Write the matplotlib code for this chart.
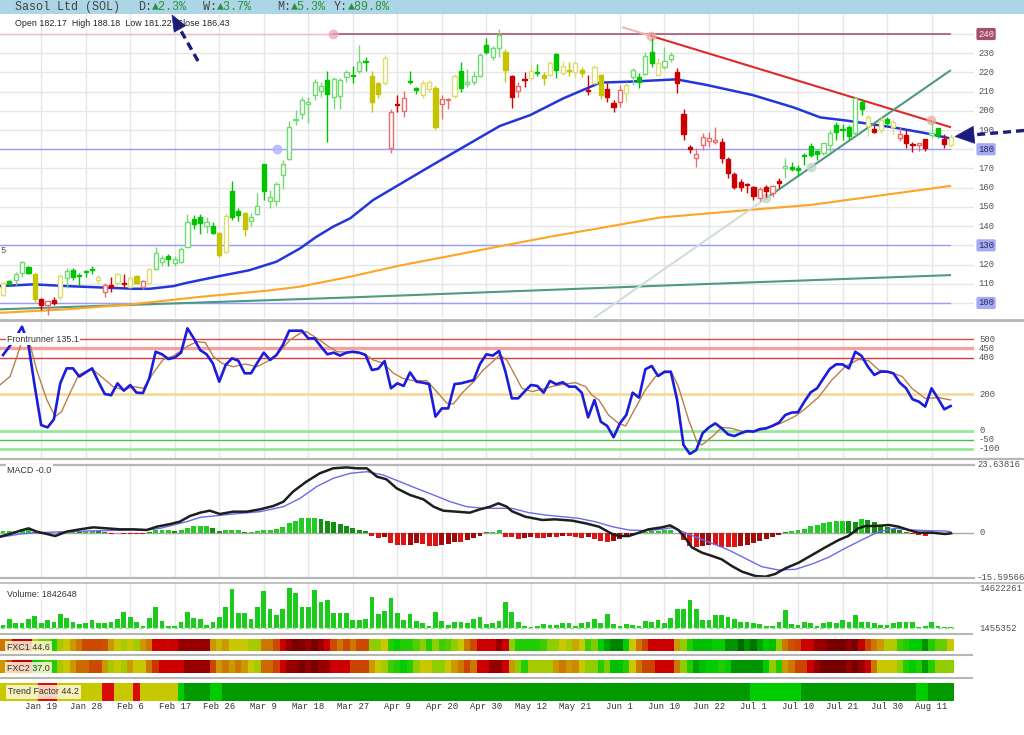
import numpy as np
import matplotlib
matplotlib.use("Agg")
import matplotlib.pyplot as plt
from matplotlib.colors import LinearSegmentedColormap, Normalize
from matplotlib.patches import Rectangle, Polygon

# ---------------- data ----------------
opens = [104.2, 111.3, 111.8, 115.7, 118.6, 115.0, 101.9, 98.9, 101.5, 103.3,
         113.2, 117.1, 114.1, 116.2, 117.2, 112.0, 105.9, 109.3, 110.2, 110.4,
         108.5, 114.0, 108.1, 110.2, 117.5, 121.2, 124.2, 121.0, 121.5, 129.3,
         143.5, 144.9, 140.1, 140.2, 136.6, 126.7, 158.4, 148.0, 147.0, 142.8,
         146.3, 172.3, 153.1, 153.1, 166.6, 174.9, 195.0, 198.4, 203.8, 208.2,
         210.5, 216.0, 207.4, 207.7, 217.5, 218.3, 220.9, 225.8, 218.1, 214.3,
         214.3, 180.5, 203.2, 200.1, 215.3, 211.7, 208.2, 211.2, 212.0, 203.6,
         205.6, 207.7, 220.9, 213.8, 215.2, 218.1, 234.3, 228.2, 232.6, 230.8,
         218.1, 210.5, 216.6, 216.9, 220.2, 218.7, 218.7, 229.4, 219.5, 221.5,
         220.1, 221.3, 210.7, 214.3, 218.7, 211.2, 203.9, 204.8, 209.1, 217.8,
         217.5, 219.2, 230.8, 218.7, 222.7, 226.8, 220.4, 198.4, 180.7, 175.3,
         182.2, 184.5, 184.0, 184.0, 174.8, 167.1, 163.1, 161.6, 160.5, 154.5,
         160.2, 157.4, 163.5, 170.5, 171.0, 170.5, 176.6, 181.7, 179.1, 178.2,
         182.2, 192.6, 190.2, 191.7, 188.3, 204.8, 192.1, 190.4, 190.0, 195.6,
         191.4, 185.7, 187.4, 182.3, 182.2, 185.2, 187.4, 190.9, 185.3, 182.17]
highs = [111.0, 112.0, 116.3, 121.8, 119.3, 115.5, 102.4, 101.5, 103.2, 115.0,
         118.0, 118.0, 115.5, 117.2, 119.5, 114.8, 110.5, 113.5, 115.8, 115.2,
         114.0, 114.5, 112.0, 118.0, 129.0, 125.0, 125.6, 124.2, 129.3, 146.5,
         145.7, 146.5, 144.5, 142.3, 137.2, 147.0, 163.6, 149.2, 147.5, 147.0,
         157.0, 172.6, 158.8, 163.1, 174.5, 194.8, 200.7, 207.4, 207.4, 216.4,
         215.2, 221.0, 217.5, 217.0, 221.5, 223.5, 234.5, 228.0, 221.0, 215.2,
         229.0, 201.0, 208.4, 210.3, 220.5, 212.5, 216.0, 216.0, 213.0, 208.3,
         206.7, 219.0, 225.4, 222.0, 221.0, 230.0, 237.8, 234.0, 242.4, 232.0,
         218.5, 215.2, 220.4, 223.8, 224.5, 220.4, 225.8, 230.0, 226.2, 225.6,
         226.2, 223.0, 218.7, 224.0, 219.0, 214.3, 205.6, 213.5, 215.2, 222.1,
         219.5, 230.8, 237.8, 227.3, 233.4, 230.8, 222.1, 200.8, 182.2, 180.5,
         188.3, 189.1, 191.7, 185.7, 176.2, 168.4, 164.3, 162.3, 161.0, 160.5,
         161.4, 161.5, 165.2, 175.3, 173.6, 171.6, 177.9, 183.4, 179.6, 183.5,
         190.0, 194.3, 192.9, 192.6, 207.4, 206.0, 197.9, 192.6, 196.9, 196.7,
         195.6, 191.7, 190.0, 184.0, 183.5, 185.5, 195.2, 191.2, 188.2, 188.18]
lows = [103.5, 109.3, 109.3, 113.5, 115.0, 100.7, 96.3, 93.7, 98.9, 101.5,
        107.6, 111.9, 109.5, 113.7, 115.0, 110.0, 103.0, 105.7, 108.8, 107.9,
        108.0, 110.0, 107.5, 109.5, 117.2, 119.0, 119.0, 119.0, 120.6, 129.0,
        138.7, 136.0, 136.3, 136.0, 124.0, 126.2, 143.0, 142.8, 135.0, 140.2,
        145.8, 153.6, 149.6, 150.5, 159.1, 174.3, 192.6, 196.0, 193.7, 205.6,
        207.4, 184.0, 200.8, 201.0, 215.0, 214.5, 219.7, 221.0, 199.6, 206.7,
        213.5, 177.9, 199.6, 197.0, 214.0, 209.0, 206.7, 210.0, 190.5, 196.0,
        200.8, 206.5, 209.9, 212.5, 213.5, 217.5, 229.5, 226.5, 228.2, 215.2,
        201.3, 207.0, 212.6, 216.0, 218.1, 213.5, 218.0, 216.9, 218.7, 217.9,
        217.1, 217.5, 208.2, 214.0, 206.0, 204.8, 199.6, 202.2, 204.8, 213.5,
        211.7, 218.7, 223.0, 218.1, 221.7, 225.6, 209.1, 184.8, 177.9, 170.9,
        179.5, 181.2, 183.0, 173.0, 164.9, 159.1, 158.1, 157.1, 153.8, 153.2,
        155.0, 155.0, 159.6, 164.9, 168.8, 166.2, 171.6, 176.2, 174.5, 177.0,
        178.8, 184.7, 184.7, 184.9, 187.4, 198.0, 186.9, 188.3, 188.3, 191.9,
        187.9, 184.3, 180.5, 178.8, 179.0, 179.3, 186.0, 185.7, 180.5, 181.22]
closes = [110.5, 109.9, 115.0, 121.3, 115.5, 101.9, 98.9, 101.0, 99.8, 114.0,
          116.6, 113.7, 113.9, 116.0, 117.0, 113.7, 109.3, 108.1, 114.9, 110.0,
          112.8, 110.2, 111.4, 117.5, 125.8, 123.6, 122.8, 122.7, 128.1, 142.1,
          140.9, 141.5, 142.0, 136.6, 125.0, 145.3, 144.6, 145.8, 138.3, 144.6,
          150.6, 158.4, 155.0, 161.9, 172.2, 191.7, 195.4, 205.6, 204.0, 215.2,
          212.9, 208.8, 216.6, 216.0, 220.4, 218.0, 225.6, 225.5, 204.8, 208.6,
          227.4, 199.2, 202.9, 206.5, 215.1, 210.6, 214.7, 215.2, 191.7, 206.0,
          206.2, 218.1, 211.7, 215.0, 218.1, 229.1, 230.8, 232.5, 239.5, 221.3,
          207.4, 212.9, 216.2, 220.9, 219.9, 216.9, 225.1, 221.3, 223.3, 220.8,
          224.7, 219.9, 210.4, 223.0, 208.2, 207.4, 201.8, 210.8, 213.5, 221.3,
          215.2, 228.5, 224.7, 225.1, 226.1, 229.1, 214.3, 187.9, 180.4, 177.5,
          186.2, 186.0, 185.0, 175.3, 167.5, 160.2, 160.5, 161.2, 155.8, 159.2,
          158.4, 160.9, 162.3, 170.7, 169.7, 169.4, 176.4, 177.0, 177.4, 183.4,
          188.3, 189.1, 189.9, 186.9, 206.5, 200.8, 197.0, 189.2, 195.2, 193.8,
          194.3, 188.0, 183.1, 182.1, 183.4, 180.5, 188.6, 187.4, 182.7, 186.43]
candle_cols = ("yggggyrrry" "gggggyrryr" "yyrygggggg" "ggggyyggyg" "gggggggggg"
               "ggggggggyy" "yrrrggyyyr" "rygggggggy" "rrrygyygyy" "yyryyrrryg"
               "gggyggrrrr" "rrrrrrrrrr" "rrrggggggg" "ggggggyryg" "yrrrrrggry")

# moving averages (bar index, price)
ma_fast = [(-0.5, 108.8), (4.8, 109.7), (10, 108.8), (15.3, 108.1), (20.5, 107.4), (23.1, 107.4),
           (26.8, 108.8), (28.9, 110.5), (33.6, 113.7), (38.8, 117.1), (43, 121.5), (46.7, 128.4),
           (49.3, 134.5), (51.9, 139.7), (54.6, 144.1), (58.2, 153.6), (67.1, 171), (73.4, 183.1),
           (78.1, 192.1), (82.9, 197.8), (88.1, 206.5), (93.9, 214.7), (98.6, 215.2), (105.9, 216.4),
           (110.6, 213.5), (117.9, 208.2), (124.3, 201.8), (128.5, 196.6), (132.7, 194.9),
           (140, 191.4), (145.2, 188.3), (148.9, 185.7)]
ma_slow = [(-0.5, 94.9), (10, 96.7), (20.5, 99.4), (31, 103.2), (41.5, 106.4), (46.7, 108.5),
           (54.6, 113.7), (62.4, 119.5), (70.3, 124.5), (78.1, 129.5), (86, 134.5), (93.9, 139),
           (103.3, 144.5), (119, 148.9), (126.9, 151), (134.7, 154.5), (148.9, 160.9)]
ma_long = [(-0.5, 96.7), (54.6, 102.9), (103.3, 109), (148.9, 114.5)]

# drawn trend lines (bar index, price)
resist_faint = [(97.5, 243.4), (101.9, 239.0)]
resist_line = [(101.9, 239.0), (148.9, 191.6)]
support_faint = [(93.0, 92.4), (120.0, 154.5)]
support_line = [(120.0, 154.5), (148.9, 220.9)]
level_240 = [(-0.5, 51.9), (51.9, 148.9)]
blue_levels = [180, 130, 100]
price_ticks = list(range(100, 250, 10))

# Frontrunner
fr_main = [414, 460, 511, 569, 469, 241, 31, 18, 62, 259,
           341, 341, 296, 319, 341, 268, 201, 194, 259, 219,
           250, 208, 206, 286, 432, 418, 392, 400, 427, 560,
           505, 441, 418, 368, 268, 359, 396, 383, 314, 314,
           372, 427, 387, 414, 469, 547, 547, 547, 505, 505,
           460, 418, 427, 411, 427, 432, 427, 414, 332, 339,
           381, 232, 259, 245, 319, 268, 263, 255, 77, 122,
           122, 255, 259, 268, 277, 365, 418, 411, 436, 323,
           177, 177, 214, 250, 245, 208, 272, 254, 265, 241,
           241, 208, 73, 168, 49, 26, -36, 40, 86, 208,
           181, 336, 354, 299, 321, 323, 168, -78, -127, -106,
           -14, 18, 40, 13, -20, -29, -14, -2, -5, 9,
           13, 27, 44, 86, 99, 101, 159, 210, 232, 286,
           338, 363, 363, 341, 432, 409, 350, 305, 323, 323,
           314, 263, 232, 172, 159, 132, 232, 177, 117, 135.1]
fr_signal = [(-0.5, 250), (1.1, 296), (2.1, 396), (3.2, 514), (4.2, 478), (5.3, 332), (6.9, 168),
             (8.2, 77), (9.2, 104), (10.5, 204), (11.9, 305), (13.2, 328), (14.2, 332), (15.8, 286),
             (17.3, 241), (18.9, 223), (20.5, 241), (22.1, 232), (23.6, 314), (25.2, 390),
             (26.8, 409), (28.9, 460), (30.5, 487), (31.8, 482), (33.1, 405), (34.4, 369),
             (36.2, 350), (38.1, 365), (39.9, 350), (41.5, 378), (43.0, 414), (45.1, 496),
             (46.7, 533), (47.7, 542), (49.8, 496), (51.2, 460), (52.5, 432), (54.6, 429),
             (56.7, 423), (58.2, 387), (59.8, 369), (61.4, 314), (62.9, 286), (64.5, 274),
             (66.6, 274), (68.2, 214), (69.8, 150), (70.8, 146), (72.4, 214), (74.0, 268),
             (75.5, 332), (77.1, 381), (78.1, 414), (79.2, 387), (80.0, 336), (81.6, 232),
             (83.2, 214), (85.3, 232), (86.8, 246), (88.4, 255), (90.0, 263), (91.6, 241),
             (92.6, 195), (93.7, 168), (95.2, 86), (96.8, 40), (97.9, 26), (99.4, 122),
             (101.0, 223), (102.6, 296), (104.1, 328), (105.2, 314), (106.2, 241), (107.8, 59),
             (109.1, -60), (109.9, -78), (111.5, -33), (113.0, 18), (114.6, 13), (116.7, -9),
             (118.8, 0), (120.9, 22), (122.5, 44), (124.6, 80), (126.2, 122), (128.3, 186),
             (130.3, 277), (132.4, 350), (134.5, 390), (136.1, 383), (137.7, 332), (139.3, 323),
             (141.4, 296), (142.9, 232), (145.0, 177), (147.1, 181), (149.0, 168)]
fr_levels = [500, 450, 400, 200, 0, -50, -100]

# MACD
macd_line = [(-0.5, -1.35), (1.1, -0.42), (2.7, 0.73), (4.0, 1.54), (5.3, 0.39), (6.9, -0.42),
             (8.2, -1.12), (10.0, 0.39), (12.1, 1.2), (14.2, 1.89), (16.3, 1.54), (18.4, 1.2),
             (20.5, 1.2), (22.6, 0.97), (24.2, 2.12), (26.3, 3.05), (27.8, 3.86), (29.4, 5.83),
             (31.0, 6.98), (32.5, 7.68), (34.1, 6.52), (36.2, 7.33), (38.3, 7.33), (40.4, 8.14),
             (42.5, 9.3), (44.1, 10.8), (45.6, 14.28), (47.7, 17.75), (49.8, 20.64), (51.9, 22.38),
             (54.0, 22.72), (55.6, 22.38), (57.2, 22.38), (58.8, 19.48), (60.3, 18.56), (61.9, 15.43),
             (64.0, 13.12), (66.1, 11.61), (67.7, 9.07), (69.2, 7.68), (71.3, 7.33), (73.4, 6.98),
             (75.0, 8.14), (76.6, 9.07), (77.9, 10.22), (79.2, 9.07), (80.0, 7.5), (82.1, 5.59),
             (84.8, 4.44), (86.8, 4.67), (89.5, 4.21), (91.6, 3.28), (93.7, 2.12), (95.8, -0.42),
             (96.8, -1.12), (98.4, -1.12), (100.0, 0.04), (101.5, 1.2), (103.6, 1.89), (104.9, 2.58),
             (106.2, 0.97), (107.3, -1.93), (108.3, -5.05), (109.9, -6.9), (111.5, -8.06),
             (113.0, -9.22), (114.6, -11.54), (116.2, -13.5), (118.3, -15.01), (119.9, -15.24),
             (121.4, -14.31), (123.0, -12.35), (125.1, -10.38), (127.2, -7.72), (129.3, -5.05),
             (131.4, -2.51), (132.9, -1.12), (134.5, 1.54), (135.6, 2.35), (137.1, 2.35),
             (139.3, 2.7), (140.8, 2.12), (142.4, 0.97), (143.9, 0.04), (146.1, 0.04),
             (148.1, -0.42), (149.0, -0.19)]
macd_signal = [(-0.5, -1.58), (2.7, -0.42), (5.3, 0.04), (10.0, 0.39), (15.3, 0.73), (20.5, 0.97),
               (22.6, 0.97), (24.7, 1.54), (26.8, 2.7), (28.9, 3.86), (31.0, 5.36), (33.1, 5.83),
               (36.2, 6.52), (40.4, 7.33), (44.1, 9.07), (46.7, 11.96), (49.3, 16.01), (51.9, 18.9),
               (54.6, 20.64), (57.2, 21.22), (59.8, 20.06), (62.4, 17.75), (65.0, 15.43),
               (67.7, 13.12), (70.3, 10.8), (72.9, 9.07), (75.5, 8.49), (78.1, 8.49), (80.0, 8.49),
               (82.7, 6.98), (85.3, 6.17), (87.9, 5.59), (90.5, 5.02), (93.1, 3.86), (95.8, 2.12),
               (98.4, 0.97), (101.0, 0.73), (103.6, 1.2), (105.2, 1.77), (106.2, 0.97),
               (108.8, -1.35), (111.5, -3.67), (114.1, -5.98), (116.7, -8.87), (119.3, -11.77),
               (121.9, -12.92), (124.6, -12.69), (127.2, -10.84), (129.8, -8.53), (132.4, -5.4),
               (135.0, -2.51), (137.7, 0.39), (140.3, 1.54), (142.9, 0.97), (145.5, 0.73),
               (148.1, 0.62), (149.0, 0.39)]
macd_hist = [0.58, 0.58, 0.70, 1.27, 1.50, 0.35, -0.46, -0.46, -0.23, 0.10,
             0.46, 0.58, 0.46, 0.46, 0.58, 0.46, 0.23, -0.35, -0.23, -0.35,
             -0.35, -0.35, -0.46, 0.23, 0.81, 0.81, 0.81, 0.70, 0.81, 1.74,
             2.31, 2.31, 2.31, 1.50, 0.58, 0.93, 0.93, 0.93, 0.35, 0.35,
             0.58, 0.93, 0.93, 1.27, 1.85, 3.24, 4.17, 4.98, 5.09, 5.21,
             4.63, 4.05, 3.82, 2.89, 2.31, 1.50, 0.93, 0.58, -1.16, -1.97,
             -1.39, -3.47, -4.28, -4.40, -4.28, -3.70, -3.94, -4.63, -4.63, -4.28,
             -3.94, -3.13, -3.13, -2.55, -1.97, -1.16, 0.12, 0.23, 0.93, -1.39,
             -1.62, -2.08, -1.97, -1.62, -1.97, -1.97, -1.39, -1.39, -1.16, -1.16,
             -1.39, -1.97, -1.62, -2.31, -2.78, -3.13, -2.78, -2.31, -1.62, -0.93,
             -0.23, 0.35, 0.58, 0.70, 0.81, 0.93, -0.23, -2.55, -4.63, -5.09,
             -4.63, -4.28, -4.28, -4.86, -5.09, -5.09, -4.63, -4.28, -3.70, -3.01,
             -2.31, -1.62, -0.93, 0.10, 0.70, 0.93, 1.39, 2.43, 2.78, 3.24,
             3.59, 4.05, 4.17, 4.05, 3.59, 4.63, 4.28, 3.70, 2.66, 2.08,
             1.27, 0.93, 0.10, -0.46, -0.69, -1.16, -0.58, -0.46, -0.81, -0.46]
macd_lo, macd_hi = -15.59566, 23.63816

# volume, millions
volume = [2.55, 4.42, 3.10, 3.10, 4.42, 5.62, 3.32, 4.20, 3.43, 6.17,
          4.97, 3.65, 2.77, 3.32, 4.20, 3.10, 3.10, 3.65, 4.42, 6.94,
          5.08, 3.43, 2.33, 4.97, 8.59, 3.98, 2.33, 2.33, 3.43, 6.94,
          4.75, 4.53, 2.55, 3.65, 5.30, 8.59, 14.29, 6.61, 6.61, 4.42,
          8.37, 13.74, 7.82, 5.84, 7.82, 14.62, 12.97, 8.37, 8.37, 14.07,
          10.01, 10.78, 6.39, 6.61, 6.61, 4.20, 4.20, 4.42, 11.88, 6.17,
          7.16, 11.55, 6.61, 4.20, 6.17, 3.98, 3.32, 2.33, 6.94, 3.87,
          2.55, 3.65, 3.65, 3.10, 4.42, 5.30, 2.77, 3.32, 3.87, 10.01,
          6.94, 3.43, 2.33, 2.00, 2.33, 2.77, 2.55, 2.55, 3.10, 3.10,
          2.22, 3.32, 3.43, 4.42, 3.10, 6.17, 2.88, 2.22, 2.88, 2.55,
          2.33, 3.98, 3.65, 4.20, 3.10, 4.86, 7.71, 7.71, 10.78, 7.71,
          4.20, 4.20, 5.84, 5.84, 5.30, 4.53, 3.65, 3.43, 3.10, 2.88,
          2.33, 2.33, 3.65, 7.60, 2.77, 2.55, 3.65, 3.10, 2.33, 3.10,
          3.43, 3.10, 4.20, 3.65, 5.84, 3.65, 3.65, 3.10, 2.55, 2.55,
          3.10, 3.65, 3.65, 3.65, 1.78, 2.33, 3.65, 2.33, 2.00, 1.842648]
vol_lo, vol_hi = 1.455352, 14.622261

# heat strips (0 = strong green ... 100 = dark red)
fxc1 = [58, 58, 76, 76, 76, 45, 33, 33, 25, 40, 45, 52, 58, 65, 65, 65, 64, 52, 46, 40,
        45, 40, 52, 58, 76, 76, 75, 76, 86, 86, 86, 86, 86, 52, 48, 52, 45, 45, 45, 40,
        40, 58, 58, 65, 76, 86, 95, 92, 86, 95, 86, 76, 65, 58, 65, 58, 65, 65, 37, 37,
        45, 25, 22, 25, 25, 30, 37, 25, 37, 28, 30, 37, 45, 58, 65, 76, 76, 76, 86, 76,
        37, 25, 25, 25, 25, 28, 37, 37, 45, 40, 50, 45, 28, 35, 22, 16, 10, 10, 22, 45,
        58, 66, 76, 76, 76, 76, 52, 37, 25, 20, 20, 20, 23, 23, 13, 13, 4, 13, 7, 16,
        22, 20, 37, 58, 64, 66, 76, 76, 86, 86, 95, 95, 95, 88, 95, 78, 66, 58, 52, 42,
        42, 28, 25, 22, 22, 13, 25, 32, 32, 44.6]
fxc2 = [52, 65, 76, 76, 76, 22, 25, 30, 25, 40, 45, 52, 60, 60, 65, 65, 52, 40, 45, 40,
        52, 45, 45, 58, 68, 76, 76, 76, 76, 86, 86, 86, 86, 66, 52, 58, 52, 58, 52, 45,
        40, 60, 60, 66, 76, 86, 86, 95, 86, 95, 86, 86, 76, 76, 76, 66, 66, 66, 52, 45,
        40, 28, 25, 22, 25, 37, 45, 45, 37, 37, 45, 52, 58, 66, 58, 76, 76, 86, 86, 76,
        52, 37, 25, 40, 40, 40, 40, 52, 58, 52, 55, 45, 37, 37, 25, 35, 20, 20, 25, 45,
        58, 66, 66, 76, 76, 76, 58, 37, 25, 16, 20, 22, 22, 25, 23, 13, 13, 13, 13, 13,
        22, 37, 25, 52, 58, 66, 66, 76, 86, 95, 95, 95, 95, 86, 95, 86, 76, 58, 45, 45,
        45, 37, 25, 22, 25, 15, 25, 37, 37, 37.0]
tf_counts = [6, 3, 7, 2, 3, 1, 6, 1, 4, 2, 83, 8, 18, 2, 4]
tf_codes = "YRYRYRYGgGgGgGg"

date_labels = ["Jan 19", "Jan 28", "Feb 6", "Feb 17", "Feb 26", "Mar 9", "Mar 18", "Mar 27",
               "Apr 9", "Apr 20", "Apr 30", "May 12", "May 21", "Jun 1", "Jun 10", "Jun 22",
               "Jul 1", "Jul 10", "Jul 21", "Jul 30", "Aug 11"]
date_idx = [6 + 7 * k for k in range(len(date_labels))]

# ---------------- figure ----------------
W, H = 1024, 735
MONO = ['Liberation Mono', 'DejaVu Sans Mono']
SANS = ['Liberation Sans', 'DejaVu Sans']
GRID = '#e6e6e6'
n = len(closes)
idx = np.arange(n)
XL = (-3 / 6.36, 971 / 6.36)

fig = plt.figure(figsize=(W / 100, H / 100), dpi=100)


def panel(x0, y0, x1, y1, z=1):
    ax = fig.add_axes([x0 / W, 1 - y1 / H, (x1 - x0) / W, (y1 - y0) / H], zorder=z)
    ax.set_axis_off()
    ax.set_xlim(XL)
    return ax


def knots(ax, pts, **kw):
    xs, ys = zip(*pts)
    ax.plot(xs, ys, **kw)


def right_label(ax, xpx, v, s, color='#505050', **kw):
    ax.text(xpx / 974, v, s, transform=ax.get_yaxis_transform(), ha='left', va='center',
            fontsize=6.4, family=MONO, color=color, clip_on=False, **kw)


# --- price panel
ax = panel(0, 14, 974, 318)
ax.set_ylim(92.19, 250.41)
for p in price_ticks:
    ax.axhline(p, color=GRID, lw=1, zorder=0)
for i in date_idx:
    ax.axvline(i, color=GRID, lw=1, zorder=0)

knots(ax, ma_long, color='#4f9a80', lw=1.5, zorder=2)
knots(ax, ma_slow, color='#ffa424', lw=1.5, zorder=2)
knots(ax, ma_fast, color='#2236dc', lw=1.8, zorder=2)

for lv in blue_levels:
    ax.plot([-0.5, 148.9], [lv, lv], color='#9a9aff', lw=1, zorder=1)
ax.plot(level_240[0], [240, 240], color='#ecbcc4', lw=1, zorder=1)
ax.plot(level_240[1], [240, 240], color='#a8566e', lw=1.2, zorder=1)
ax.plot(level_240[0][1], 240, 'o', ms=6, color='#eaa4b4', alpha=0.7, zorder=3)
ax.plot(43.1, 180, 'o', ms=6, color='#b0b4ff', alpha=0.8, zorder=3)

knots(ax, resist_faint, color='#f4b4b4', lw=1.5, zorder=3)
knots(ax, resist_line, color='#e02828', lw=1.5, zorder=3)
knots(ax, support_faint, color='#cfe0d2', lw=1.5, zorder=3)
knots(ax, support_line, color='#4f9a80', lw=1.5, zorder=3)
ax.plot(resist_line[0][0], resist_line[0][1], 'o', ms=6, color='#f0a8a8', alpha=0.7, zorder=3)
ax.plot(145.9, 195.2, 'o', ms=6, color='#f0a8a8', alpha=0.7, zorder=3)
ax.plot(support_line[0][0], support_line[0][1], 'o', ms=6, color='#c8d6cc', alpha=0.8, zorder=3)
ax.plot(127.0, 170.6, 'o', ms=6, color='#c8d6cc', alpha=0.8, zorder=3)

fill_c = {'g': '#00c400', 'y': '#c4c400', 'r': '#cc0000'}
edge_c = {'g': '#70dc70', 'y': '#dcdc70', 'r': '#ec6c6c'}
bw = 0.66
for i in range(n):
    o, h, l, c, k = opens[i], highs[i], lows[i], closes[i], candle_cols[i]
    hollow = c > o
    col = edge_c[k] if hollow else fill_c[k]
    ax.vlines(i, l, h, color=col, lw=1, zorder=4)
    bot = min(o, c)
    hgt = max(abs(c - o), 0.55)
    ax.add_patch(Rectangle((i - bw / 2, bot), bw, hgt, facecolor='white' if hollow else col,
                           edgecolor=col, lw=1, zorder=5))

boxed = {240: ('#a4506c', '#fbe4ea'), 180: ('#a6aaf2', '#2a2a66'),
         130: ('#a6aaf2', '#2a2a66'), 100: ('#a6aaf2', '#2a2a66')}
for p in price_ticks:
    if p in boxed:
        fc, tc = boxed[p]
        right_label(ax, 978, p, str(p), color=tc,
                    bbox=dict(boxstyle='round,pad=0.18', fc=fc, ec='none'))
    else:
        right_label(ax, 978, p, str(p))

# --- frontrunner panel
fr = panel(0, 321, 974, 459)
fr.set_ylim(-154.8, 600.1)
for i in date_idx:
    fr.axvline(i, color=GRID, lw=1, zorder=0)
lv_style = {500: ('#e04848', 1), 450: ('#f2a0a0', 2.4), 400: ('#d83c3c', 1),
            200: ('#f2dc9c', 2), 0: ('#98e698', 2), -50: ('#4cc04c', 1), -100: ('#98e698', 2)}
for lv in fr_levels:
    c, w = lv_style[lv]
    fr.axhline(lv, color=c, lw=w, zorder=1)
    right_label(fr, 979, lv, str(lv))
knots(fr, fr_signal, color='#b8804c', lw=1, zorder=3)
fr.plot(idx, fr_main, color='#1c1cdc', lw=1.9, zorder=4)

# --- MACD panel
mc = panel(0, 464.7, 974, 577.7)
mc.set_ylim(macd_lo, macd_hi)
for i in date_idx:
    mc.axvline(i, color=GRID, lw=1, zorder=0)
mc.axhline(0, color='#a8a8a8', lw=1, zorder=1)
hv = np.array(macd_hist)
prev = np.concatenate([[hv[0]], hv[:-1]])
hcols = []
for v, p in zip(hv, prev):
    growing = abs(v) >= abs(p)
    if v >= 0:
        hcols.append('#22cc22' if growing else '#119011')
    else:
        hcols.append('#dd1414' if growing else '#a00c0c')
mc.bar(idx, hv, width=0.78, color=hcols, zorder=2)
knots(mc, macd_signal, color='#6a6aee', lw=1, zorder=3)
knots(mc, macd_line, color='#1e1e1e', lw=1.8, zorder=4)
right_label(mc, 977, macd_hi, '23.63816')
right_label(mc, 979, 0, '0')
right_label(mc, 977, macd_lo, '-15.59566')

# --- volume panel
vo = panel(0, 583, 974, 628.3)
vo.set_ylim(vol_lo, vol_lo + (vol_hi - vol_lo) * 45.3 / 40)
for i in date_idx:
    vo.axvline(i, color=GRID, lw=1, zorder=0)
vv = np.array(volume)
vo.bar(idx, vv - vol_lo, bottom=vol_lo, width=0.74, color='#1ccc1c', zorder=2)
vo.plot([-0.5, n - 0.5], [vol_lo, vol_lo], ls=(0, (3, 2)), color='#8ee28e', lw=1,
        zorder=3, clip_on=False)
right_label(vo, 979, vol_hi, '14622261')
right_label(vo, 979, vol_lo, '1455352')

# --- heat strips
heat = LinearSegmentedColormap.from_list('heat', [
    (0.00, '#005a00'), (0.08, '#007a00'), (0.15, '#00a000'), (0.22, '#00cc00'),
    (0.30, '#55cc00'), (0.37, '#90cc00'), (0.45, '#c8c800'), (0.52, '#cc9900'),
    (0.58, '#cc7700'), (0.66, '#cc4400'), (0.76, '#cc0000'), (0.86, '#990000'),
    (0.95, '#780000'), (1.00, '#6a0000')])
norm = Normalize(0, 100)
for vals, (y0, y1) in [(fxc1, (639, 650.5)), (fxc2, (660, 673))]:
    s = panel(0, y0, 974, y1)
    s.set_ylim(0, 1)
    s.bar(idx, 1, width=1.02, color=heat(norm(np.array(vals))), lw=0)

tf = panel(0, 683, 974, 700.5)
tf.set_ylim(0, 1)
tf_pal = {'Y': '#c8c800', 'R': '#dd0a0a', 'G': '#00cc00', 'g': '#009a00'}
tf_cols = []
for cnt, code in zip(tf_counts, tf_codes):
    tf_cols += [tf_pal[code]] * cnt
tf.bar(idx, 1, width=1.02, color=tf_cols, lw=0)
for i, lab in zip(date_idx, date_labels):
    tf.text(i, -0.36, lab, transform=tf.get_xaxis_transform(), ha='center', va='center',
            fontsize=6.4, family=MONO, color='#303030', clip_on=False)

# --- overlay: header, separators, labels, arrows (pixel coordinates)
ov = fig.add_axes([0, 0, 1, 1], zorder=20)
ov.set_xlim(0, W)
ov.set_ylim(H, 0)
ov.set_axis_off()
ov.add_patch(Rectangle((0, 0), W, 14, fc='#acd6e6', ec='none'))
ov.text(15, 7.3, 'Sasol Ltd (SOL)', fontsize=8.5, family=MONO, color='#444444', va='center')
for x, key, val in [(138, 'D:', '\u25b22.3%'), (203, 'W:', '\u25b23.7%'),
                    (277, 'M:', '\u25b25.3%'), (334, 'Y:', '\u25b289.8%')]:
    ov.text(x, 7.3, key, fontsize=8.5, family=MONO, color='#444444', va='center')
    ov.text(x + 14.1, 7.3, val, fontsize=8.5, family=MONO, color='#2e8e3e', va='center')

sep = '#b6b6b6'
for y, x1, w in [(319.5, W, 2), (459, W, 1.6), (464.7, 974, 1.6), (577.7, 974, 1.6),
                 (583, W, 1.2), (634, 972, 1.5), (655, 972, 1.5), (678, 972, 1.5)]:
    ov.plot([0, x1], [y, y], color=sep, lw=w)

ov.text(15, 23, 'Open 182.17  High 188.18  Low 181.22  Close 186.43', fontsize=6.4,
        family=SANS, color='#222222', va='center')
wb = dict(boxstyle='square,pad=0.15', fc='white', ec='none')
ov.text(7, 339, 'Frontrunner 135.1', fontsize=6.4, family=SANS, color='#333333',
        va='center', bbox=wb)
ov.text(7, 470, 'MACD -0.0', fontsize=6.4, family=SANS, color='#333333', va='center', bbox=wb)
ov.text(7, 594.5, 'Volume: 1842648', fontsize=6.4, family=SANS, color='#333333',
        va='center', bbox=wb)
cb = dict(boxstyle='square,pad=0.25', fc='#fff8dc', ec='none', alpha=0.85)
ov.text(7, 647.5, 'FXC1 44.6', fontsize=6.4, family=SANS, color='#333333', va='center', bbox=cb)
ov.text(7, 668.5, 'FXC2 37.0', fontsize=6.4, family=SANS, color='#333333', va='center', bbox=cb)
ov.text(8, 692, 'Trend Factor 44.2', fontsize=6.4, family=SANS, color='#333333',
        va='center', bbox=cb)
ov.text(0.5, 250.5, '5', fontsize=6.4, family=MONO, color='#505050', va='center')

navy = '#1c1c80'


def dash_arrow(tail, tip, hl, hw):
    tail = np.array(tail, float)
    tip = np.array(tip, float)
    d = tip - tail
    u = d / np.hypot(*d)
    nrm = np.array([-u[1], u[0]])
    base = tip - u * hl
    ov.plot([tail[0], base[0]], [tail[1], base[1]], color=navy, lw=2.4,
            ls=(0, (2.4, 1.5)), solid_capstyle='butt', dash_capstyle='butt')
    ov.add_patch(Polygon([tip, base + nrm * hw / 2, base - nrm * hw / 2], closed=True,
                         fc=navy, ec=navy, lw=0.5))


dash_arrow((198, 61), (172, 15), 16, 13)
dash_arrow((1024, 130.5), (955, 136.5), 19, 17)

fig.savefig('out.png', dpi=100)
